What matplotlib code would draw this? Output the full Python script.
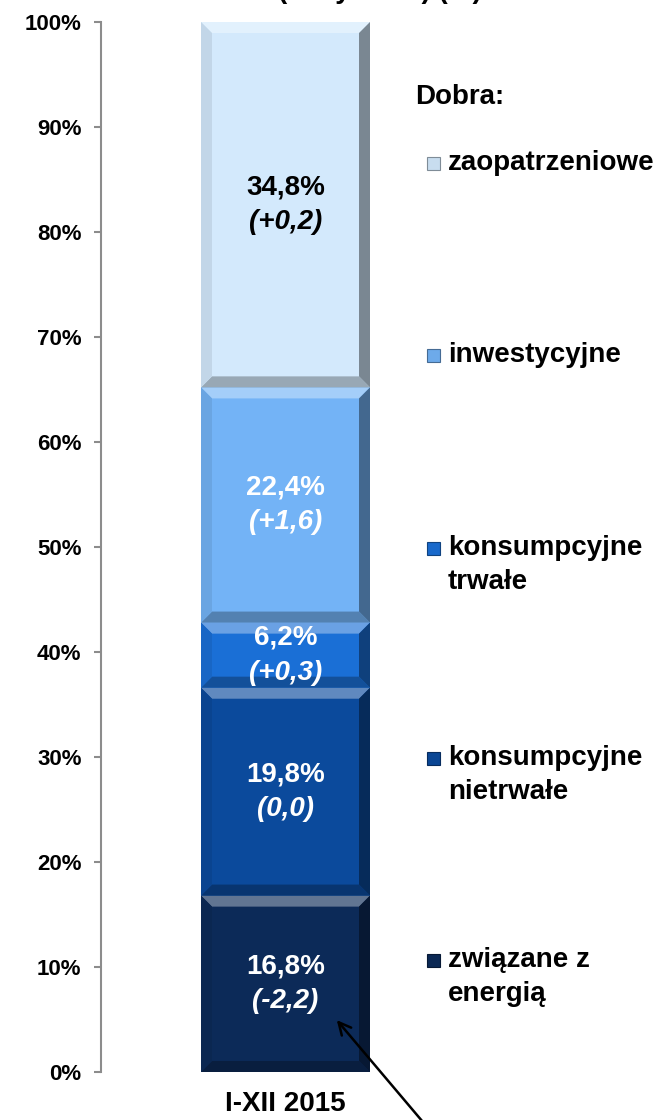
import matplotlib
matplotlib.use("Agg")
import matplotlib.pyplot as plt
import matplotlib.colors as mcolors
from matplotlib.patches import Polygon, Rectangle
import numpy as np

plt.rcParams['font.family'] = ['Liberation Sans', 'DejaVu Sans']

# ---- data ----
category = ['I-XII 2015']
groups = ['związane z\nenergią', 'konsumpcyjne\nnietrwałe', 'konsumpcyjne\ntrwałe',
          'inwestycyjne', 'zaopatrzeniowe']
shares = [16.8, 19.8, 6.2, 22.4, 34.8]
changes = ['(-2,2)', '(0,0)', '(+0,3)', '(+1,6)', '(+0,2)']
colors = ['#0c2a58', '#0b4a9c', '#1a6fd6', '#73b3f6', '#d3e9fc']
text_colors = ['white', 'white', 'white', 'white', 'black']
yticks = np.arange(0, 101, 10)
ytick_labels = [f'{v}%' for v in yticks]

W, H = 658, 1120
fig = plt.figure(figsize=(W / 100, H / 100), dpi=100)
ax = fig.add_axes([101 / W, 48 / H, 369 / W, 1050 / H])

bar_w = 0.458
bottoms = np.concatenate([[0], np.cumsum(shares)[:-1]])
containers = []
for s, b, c in zip(shares, bottoms, colors):
    containers.append(ax.bar([0], [s], bottom=[b], width=bar_w, color=c, zorder=2)[0])

ax.set_xlim(-0.5, 0.5)
ax.set_ylim(0, 100)


def blend(c, other, t):
    a = np.array(mcolors.to_rgb(c))
    o = np.array(mcolors.to_rgb(other))
    return tuple(a * (1 - t) + o * t)


# bevel decoration derived from the bar patches
for p, c in zip(containers, colors):
    x0, y0 = p.get_x(), p.get_y()
    x1, y1 = x0 + p.get_width(), y0 + p.get_height()
    dx = p.get_width() * 0.065
    dy = 1.05
    polys = [
        ([(x0, y1), (x1, y1), (x1 - dx, y1 - dy), (x0 + dx, y1 - dy)], blend(c, 'white', 0.35)),
        ([(x0, y0), (x1, y0), (x1 - dx, y0 + dy), (x0 + dx, y0 + dy)], blend(c, 'black', 0.28)),
        ([(x1, y0), (x1, y1), (x1 - dx, y1 - dy), (x1 - dx, y0 + dy)], blend(c, 'black', 0.42)),
        ([(x0, y0), (x0, y1), (x0 + dx, y1 - dy), (x0 + dx, y0 + dy)], blend(c, 'black', 0.08)),
    ]
    for pts, col in polys:
        ax.add_patch(Polygon(pts, closed=True, facecolor=col, edgecolor='none', zorder=3))

# segment labels
for p, s, ch, tc in zip(containers, shares, changes, text_colors):
    yc = p.get_y() + p.get_height() / 2
    xc = p.get_x() + p.get_width() / 2
    ax.annotate(f'{s:.1f}%'.replace('.', ','), (xc, yc), xytext=(0, 12.5),
                textcoords='offset points', ha='center', va='center',
                fontsize=20, fontweight='bold', color=tc, zorder=5)
    ax.annotate(ch, (xc, yc), xytext=(0, -12.5), textcoords='offset points',
                ha='center', va='center', fontsize=20, fontweight='bold',
                fontstyle='italic', color=tc, zorder=5)

# axes styling
for side in ['top', 'right', 'bottom']:
    ax.spines[side].set_visible(False)
ax.spines['left'].set_color('#8c8c8c')
ax.spines['left'].set_linewidth(1.5)
ax.set_yticks(yticks)
ax.set_yticklabels(ytick_labels, fontsize=16, fontweight='bold')
ax.tick_params(axis='y', length=5, width=1.5, color='#8c8c8c', pad=9)
ax.set_xticks([0])
ax.set_xticklabels(category, fontsize=20, fontweight='bold')
ax.tick_params(axis='x', length=0, pad=14)

# cut-off title at the top (only its lowest part is visible in the reference)
fig.text(278 / W, 1 + 2 / H, '(ceny stałe) (%)', ha='left', va='baseline',
         fontsize=20, fontweight='bold')

# legend (manual)
fig.text(415 / W, 1 - 97 / H, 'Dobra:', ha='left', va='center', fontsize=20,
         fontweight='bold')
leg_y = [960, 758, 548, 355, 163]
for lab, c, yy in zip(groups, colors, leg_y):
    sq = 13
    xs, ys = 427, H - yy - sq / 2
    fig.patches.append(Rectangle((xs / W, ys / H), sq / W, sq / H, transform=fig.transFigure,
                                 facecolor=blend(c, 'black', 0.05),
                                 edgecolor=blend(c, 'black', 0.4), linewidth=0.8))
    fig.text(448 / W, 1 - (yy - 13) / H, lab, ha='left', va='top', fontsize=20,
             fontweight='bold', linespacing=1.42)

# arrow pointing to the energy label
ax.annotate('', xy=(335, H - 1018), xycoords='figure pixels',
            xytext=(428, -8), textcoords='figure pixels',
            arrowprops=dict(arrowstyle='->', color='black', lw=1.8,
                            mutation_scale=22))

fig.savefig('out.png', dpi=100)
